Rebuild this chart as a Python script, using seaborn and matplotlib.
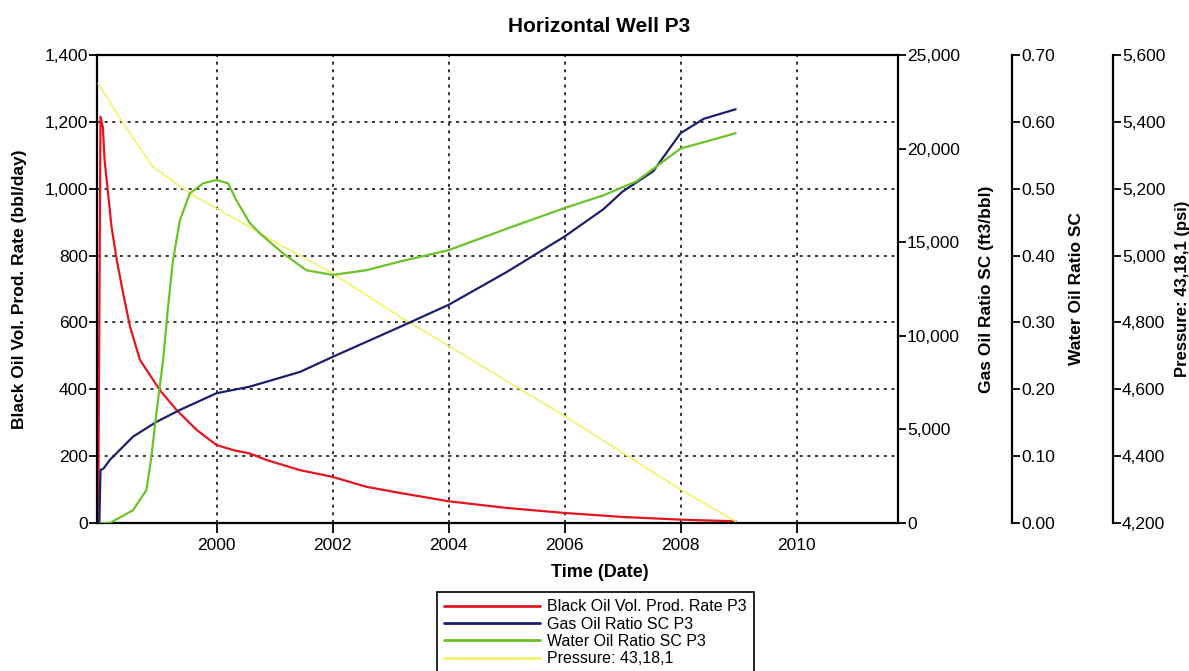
import matplotlib
matplotlib.use('Agg')
import matplotlib.pyplot as plt
import seaborn as sns
from matplotlib.ticker import FuncFormatter, FormatStrFormatter, MultipleLocator
from matplotlib.lines import Line2D

sns.set_theme(style='ticks')
plt.rcParams['font.family'] = ['Liberation Sans', 'DejaVu Sans']
plt.rcParams['text.color'] = 'black'
plt.rcParams['axes.labelcolor'] = 'black'

# Black Oil Vol. Prod. Rate P3 (bbl/day)
oil_years = [1997.96, 1998.0, 1998.04, 1998.07, 1998.13, 1998.19, 1998.28, 1998.39, 1998.51,
             1998.68, 1999.02, 1999.31, 1999.66, 2000.0, 2000.29, 2000.57, 2000.87, 2001.44,
             2002.0, 2002.59, 2003.16, 2004.0, 2005.0, 2006.0, 2007.0, 2008.0, 2008.95]
oil_rate = [0, 1215, 1185, 1086, 987, 886, 787, 687, 587,
            488, 398, 338, 278, 233, 218, 208, 188, 158,
            138, 108, 90, 65, 45, 30, 18, 10, 5]

# Gas Oil Ratio SC P3 (ft3/bbl)
gor_years = [1997.98, 1998.0, 1998.05, 1998.16, 1998.56, 1998.97, 1999.37, 2000.0, 2000.57,
             2001.44, 2002.0, 2003.16, 2004.0, 2005.0, 2006.0, 2006.67, 2007.0, 2007.53,
             2008.0, 2008.4, 2008.95]
gor = [0, 2830, 2900, 3365, 4610, 5410, 6040, 6930, 7280,
       8070, 8870, 10470, 11650, 13400, 15300, 16760, 17700, 18790,
       20820, 21590, 22100]

# Water Oil Ratio SC P3
wor_years = [1998.0, 1998.16, 1998.56, 1998.79, 1998.87, 1998.97, 1999.08, 1999.16, 1999.25,
             1999.37, 1999.54, 1999.77, 2000.0, 2000.2, 2000.34, 2000.57, 2000.75, 2001.15,
             2001.55, 2002.0, 2002.58, 2003.16, 2004.0, 2005.0, 2006.0, 2006.67, 2007.24,
             2008.0, 2008.5, 2008.95]
wor = [0.0, 0.0, 0.019, 0.049, 0.094, 0.169, 0.244, 0.319, 0.393,
       0.453, 0.493, 0.508, 0.513, 0.508, 0.483, 0.449, 0.433, 0.403,
       0.378, 0.371, 0.378, 0.391, 0.408, 0.44, 0.471, 0.490, 0.511,
       0.560, 0.572, 0.583]

# Pressure: 43,18,1 (psi)
p_years = [1997.96, 1998.39, 1998.90, 1999.54, 2000.0, 2000.57, 2001.15, 2002.0, 2003.16,
           2004.0, 2005.0, 2006.0, 2007.0, 2008.0, 2008.95]
pressure = [5515, 5396, 5266, 5186, 5141, 5085, 5027, 4947, 4817,
            4730, 4625, 4520, 4410, 4300, 4205]

year_ticks = [2000, 2002, 2004, 2006, 2008, 2010]

c_oil = '#e3161f'
c_gor = '#1c1f6b'
c_wor = '#6cc228'
c_p = '#f4f26a'

fig = plt.figure(figsize=(11.89, 6.71), dpi=100)
ax = fig.add_axes([0.0816, 0.2206, 0.6737, 0.6975])
ax_p = ax.twinx()
ax_g = ax.twinx()
ax_w = ax.twinx()

sns.lineplot(x=oil_years, y=oil_rate, ax=ax, color=c_oil, linewidth=1.6, estimator=None, sort=False)
sns.lineplot(x=p_years, y=pressure, ax=ax_p, color=c_p, linewidth=1.2, estimator=None, sort=False)
sns.lineplot(x=gor_years, y=gor, ax=ax_g, color=c_gor, linewidth=1.6, estimator=None, sort=False)
sns.lineplot(x=wor_years, y=wor, ax=ax_w, color=c_wor, linewidth=1.6, estimator=None, sort=False)

ax.set_xlim(1997.94, 2011.75)
ax.set_ylim(0, 1400)
ax_g.set_ylim(0, 25000)
ax_w.set_ylim(0, 0.70)
ax_p.set_ylim(4200, 5600)

ax.set_xticks(year_ticks)
ax.xaxis.set_major_formatter(FormatStrFormatter('%d'))
ax.yaxis.set_major_locator(MultipleLocator(200))
ax.yaxis.set_major_formatter(FuncFormatter(lambda v, p: f'{v:,.0f}'))
ax_g.yaxis.set_major_locator(MultipleLocator(5000))
ax_g.yaxis.set_major_formatter(FuncFormatter(lambda v, p: f'{v:,.0f}'))
ax_w.yaxis.set_major_locator(MultipleLocator(0.1))
ax_w.yaxis.set_major_formatter(FormatStrFormatter('%.2f'))
ax_p.yaxis.set_major_locator(MultipleLocator(200))
ax_p.yaxis.set_major_formatter(FuncFormatter(lambda v, p: f'{v:,.0f}'))

ax.grid(True, linestyle=(0, (2, 3)), color='black', linewidth=1.1)

for a in [ax_p, ax_g, ax_w]:
    for s in ['left', 'top', 'bottom']:
        a.spines[s].set_visible(False)
ax.spines['right'].set_visible(False)
ax_w.spines['right'].set_position(('axes', 1.1423))
ax_p.spines['right'].set_position(('axes', 1.2684))

for a in [ax, ax_p, ax_g, ax_w]:
    for s in a.spines.values():
        s.set_linewidth(1.6)
        s.set_color('black')
    a.tick_params(axis='y', direction='out', length=6, width=1.3, colors='black',
                  labelsize=12.5, pad=0.5)
ax.tick_params(axis='x', direction='out', length=7, width=1.3, colors='black',
               labelsize=12.5, pad=4)

ax.set_xlabel('Time (Date)', fontsize=13, fontweight='bold')
ax.xaxis.set_label_coords(0.628, -0.087)
ax.set_ylabel('Black Oil Vol. Prod. Rate (bbl/day)', fontsize=12.5, fontweight='bold')
ax.yaxis.set_label_coords(-0.087, 0.5)
ax_g.set_ylabel('Gas Oil Ratio SC (ft3/bbl)', fontsize=12.5, fontweight='bold')
ax_g.yaxis.set_label_coords(1.101, 0.5)
ax_w.set_ylabel('Water Oil Ratio SC', fontsize=12.5, fontweight='bold')
ax_w.yaxis.set_label_coords(1.2135, 0.5)
ax_p.set_ylabel('Pressure: 43,18,1 (psi)', fontsize=12, fontweight='bold')
ax_p.yaxis.set_label_coords(1.3455, 0.5)
fig.suptitle('Horizontal Well P3', x=0.504, y=0.975, va='top', fontsize=15, fontweight='bold')

handles = [Line2D([], [], color=c_oil, linewidth=2),
           Line2D([], [], color=c_gor, linewidth=2),
           Line2D([], [], color=c_wor, linewidth=2),
           Line2D([], [], color=c_p, linewidth=2)]
labels = ['Black Oil Vol. Prod. Rate P3', 'Gas Oil Ratio SC P3',
          'Water Oil Ratio SC P3', 'Pressure: 43,18,1']
leg = fig.legend(handles, labels, loc='upper left', bbox_to_anchor=(437 / 1189, 1 - 592 / 671),
                 fontsize=11.5, handlelength=6.0, handletextpad=0.45, labelspacing=0.15,
                 borderpad=0.45, borderaxespad=0, fancybox=False, framealpha=1, edgecolor='black')
leg.get_frame().set_linewidth(1.2)

fig.savefig('out.png', dpi=100)
